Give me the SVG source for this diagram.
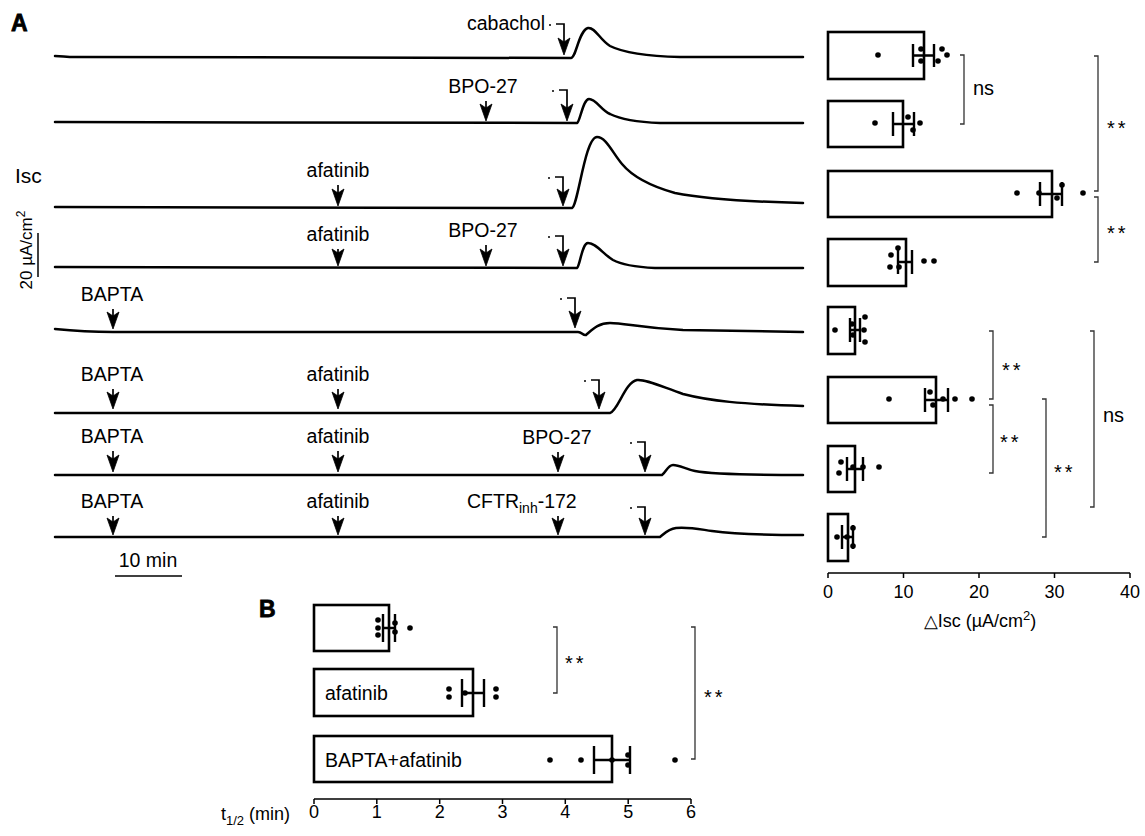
<svg xmlns="http://www.w3.org/2000/svg" width="1145" height="836" viewBox="0 0 1145 836">
<style>
text{font-family:"Liberation Sans",Arial,Helvetica,sans-serif;fill:#000}
.lbl{font-size:19.5px}
.tr{fill:none;stroke:#000;stroke-width:2.5;stroke-linejoin:round;stroke-linecap:round}
.sh{stroke:#000;stroke-width:1.7;fill:none}
.ah{fill:#000;stroke:#000;stroke-width:0.8;stroke-linejoin:miter}
.bar{fill:#fff;stroke:#000;stroke-width:2.6}
.err{fill:none;stroke:#000;stroke-width:2.4}
.dot{fill:#000}
.sig{fill:none;stroke:#333;stroke-width:1.3}
.ax{fill:none;stroke:#000;stroke-width:1.5}
.tk{font-size:18px;text-anchor:middle}
.st{font-size:20px;letter-spacing:3px}
.pl{font-size:23px;font-weight:bold;stroke:#000;stroke-width:0.8}
</style>

<g id="panelA-label"><text class="pl" x="11" y="31">A</text></g>
<g id="isc-label"><text x="15" y="183" font-size="21">Isc</text></g>
<g id="vscale">
<line class="ax" x1="38" y1="233" x2="38" y2="277"/>
<text font-size="17" text-anchor="middle" transform="translate(32,250) rotate(-90)">20 µA/cm<tspan font-size="12" dy="-7">2</tspan></text>
</g>
<g id="hscale">
<line class="ax" x1="115" y1="576" x2="182" y2="576"/>
<text class="lbl" x="148" y="567" text-anchor="middle">10 min</text>
</g>

<g id="traces">
<path class="tr" d="M55,56 C62,56 66,57 75,57 L571,58 C576,58 579,30 588,28 C595,27 600,40 610,46 C622,52 640,56 680,57 L803,57"/>
<path class="tr" d="M55,122 L577,123 C580,122 583,99 589,99 C596,99 601,110 610,114 C620,119 635,122 660,123 L803,123"/>
<path class="tr" d="M55,207 L572,208 C578,206 585,137 597,137 C606,137 612,152 622,164 C632,176 650,186 675,193 C710,200 760,202 803,203"/>
<path class="tr" d="M55,267 L577,268 C580,266 582,243 588,243 C596,243 603,254 613,260 C622,265 635,267 655,268 L803,268"/>
<path class="tr" d="M55,329 C75,331 95,332 113,332 L578,332 C582,332 583,336 586,335 C592,330 598,323 610,323 C625,323 640,328 683,330 L803,332"/>
<path class="tr" d="M55,413 L610,413 C618,411 625,382 637,380 C645,379 660,386 683,394 C710,401 740,404 803,406"/>
<path class="tr" d="M55,475 L662,475 C666,472 668,465 673,465 C680,465 685,469 695,471 C710,474 740,475 803,475"/>
<path class="tr" d="M55,537 L660,537 C665,533 668,529 676,528 C690,527 698,529 712,531 C735,534 770,535 803,535"/>
</g>

<g id="arrows">
<!-- trace 1 -->
<text class="lbl" x="545" y="30" text-anchor="end">cabachol</text>
<circle cx="550" cy="25" r="1"/><path class="sh" d="M556,24 H564 V45"/><polygon class="ah" points="564,55 558,38 564,42 570,38"/>
<!-- trace 2 -->
<text class="lbl" x="483" y="93" text-anchor="middle">BPO-27</text>
<path class="sh" d="M486,101 V111"/><polygon class="ah" points="486,121 480,104 486,108 492,104"/>
<circle cx="553" cy="91" r="1"/><path class="sh" d="M559,90 H567 V111"/><polygon class="ah" points="567,121 561,104 567,108 573,104"/>
<!-- trace 3 -->
<text class="lbl" x="338" y="177" text-anchor="middle">afatinib</text>
<path class="sh" d="M338,185 V196"/><polygon class="ah" points="338,206 332,189 338,193 344,189"/>
<circle cx="549" cy="178" r="1"/><path class="sh" d="M555,177 H563 V196"/><polygon class="ah" points="563,206 557,189 563,193 569,189"/>
<!-- trace 4 -->
<text class="lbl" x="338" y="241" text-anchor="middle">afatinib</text>
<path class="sh" d="M338,249 V256"/><polygon class="ah" points="338,266 332,249 338,253 344,249"/>
<text class="lbl" x="483" y="237" text-anchor="middle">BPO-27</text>
<path class="sh" d="M486,245 V256"/><polygon class="ah" points="486,266 480,249 486,253 492,249"/>
<circle cx="549" cy="237" r="1"/><path class="sh" d="M555,236 H563 V256"/><polygon class="ah" points="563,266 557,249 563,253 569,249"/>
<!-- trace 5 -->
<text class="lbl" x="112" y="301" text-anchor="middle">BAPTA</text>
<path class="sh" d="M113,309 V319"/><polygon class="ah" points="113,329 107,312 113,316 119,312"/>
<circle cx="561" cy="299" r="1"/><path class="sh" d="M567,298 H575 V318"/><polygon class="ah" points="575,328 569,311 575,315 581,311"/>
<!-- trace 6 -->
<text class="lbl" x="112" y="381" text-anchor="middle">BAPTA</text>
<path class="sh" d="M113,389 V399"/><polygon class="ah" points="113,409 107,392 113,396 119,392"/>
<text class="lbl" x="338" y="381" text-anchor="middle">afatinib</text>
<path class="sh" d="M338,389 V399"/><polygon class="ah" points="338,409 332,392 338,396 344,392"/>
<circle cx="585" cy="381" r="1"/><path class="sh" d="M591,380 H599 V399"/><polygon class="ah" points="599,409 593,392 599,396 605,392"/>
<!-- trace 7 -->
<text class="lbl" x="112" y="443" text-anchor="middle">BAPTA</text>
<path class="sh" d="M113,451 V462"/><polygon class="ah" points="113,472 107,455 113,459 119,455"/>
<text class="lbl" x="338" y="443" text-anchor="middle">afatinib</text>
<path class="sh" d="M338,451 V462"/><polygon class="ah" points="338,472 332,455 338,459 344,455"/>
<text class="lbl" x="557" y="444" text-anchor="middle">BPO-27</text>
<path class="sh" d="M558,452 V462"/><polygon class="ah" points="558,472 552,455 558,459 564,455"/>
<circle cx="631" cy="443" r="1"/><path class="sh" d="M637,442 H645 V462"/><polygon class="ah" points="645,472 639,455 645,459 651,455"/>
<!-- trace 8 -->
<text class="lbl" x="112" y="508" text-anchor="middle">BAPTA</text>
<path class="sh" d="M113,516 V525"/><polygon class="ah" points="113,535 107,518 113,522 119,518"/>
<text class="lbl" x="338" y="508" text-anchor="middle">afatinib</text>
<path class="sh" d="M338,516 V525"/><polygon class="ah" points="338,535 332,518 338,522 344,518"/>
<text class="lbl" x="467" y="508">CFTR<tspan font-size="14" dy="5">inh</tspan><tspan dy="-5">-172</tspan></text>
<path class="sh" d="M558,516 V525"/><polygon class="ah" points="558,535 552,518 558,522 564,518"/>
<circle cx="631" cy="508" r="1"/><path class="sh" d="M637,507 H645 V525"/><polygon class="ah" points="645,535 639,518 645,522 651,518"/>
</g>

<g id="barsA">
<rect class="bar" x="828" y="32" width="96" height="47"/>
<rect class="bar" x="828" y="101" width="75" height="46"/>
<rect class="bar" x="828" y="171" width="224" height="46"/>
<rect class="bar" x="828" y="239" width="78" height="47"/>
<rect class="bar" x="828" y="307" width="27" height="47"/>
<rect class="bar" x="828" y="377" width="108" height="46"/>
<rect class="bar" x="828" y="446" width="27" height="46"/>
<rect class="bar" x="828" y="514" width="20" height="47"/>
<path class="err" d="M913,44V67M934,44V67M913,55.5H934 M893,112V136M914,112V136M893,124H914 M1040,182V206M1062,182V206M1040,194H1062 M898,250V274M912,250V274M898,262H912 M850,318V342M860,318V342M850,330H860 M925,388V412M948,388V412M925,400H948 M847,457V481M863,457V481M847,469H863 M842,525V549M853,525V549M842,537H853"/>
<g class="dot">
<circle cx="878" cy="55" r="2.8"/><circle cx="921" cy="49" r="2.8"/><circle cx="921" cy="61" r="2.8"/><circle cx="942" cy="49" r="2.8"/><circle cx="947" cy="55" r="2.8"/><circle cx="938" cy="61" r="2.8"/>
<circle cx="875" cy="123" r="2.8"/><circle cx="908" cy="117" r="2.8"/><circle cx="920" cy="123" r="2.8"/><circle cx="913" cy="130" r="2.8"/>
<circle cx="1017" cy="193" r="2.8"/><circle cx="1039" cy="193" r="2.8"/><circle cx="1062" cy="185" r="2.8"/><circle cx="1057" cy="198" r="2.8"/><circle cx="1083" cy="193" r="2.8"/>
<circle cx="891" cy="255" r="2.8"/><circle cx="898" cy="248" r="2.8"/><circle cx="890" cy="267" r="2.8"/><circle cx="899" cy="267" r="2.8"/><circle cx="924" cy="261" r="2.8"/><circle cx="934" cy="261" r="2.8"/>
<circle cx="835" cy="330" r="2.8"/><circle cx="865" cy="317" r="2.8"/><circle cx="864" cy="330" r="2.8"/><circle cx="865" cy="342" r="2.8"/><circle cx="852" cy="324" r="2.8"/><circle cx="853" cy="335" r="2.8"/>
<circle cx="889" cy="399" r="2.8"/><circle cx="930" cy="392" r="2.8"/><circle cx="933" cy="405" r="2.8"/><circle cx="943" cy="399" r="2.8"/><circle cx="955" cy="399" r="2.8"/><circle cx="972" cy="399" r="2.8"/>
<circle cx="841" cy="462" r="2.8"/><circle cx="839" cy="473" r="2.8"/><circle cx="853" cy="467" r="2.8"/><circle cx="863" cy="467" r="2.8"/><circle cx="879" cy="467" r="2.8"/>
<circle cx="837" cy="537" r="2.8"/><circle cx="853" cy="528" r="2.8"/><circle cx="853" cy="546" r="2.8"/><circle cx="847" cy="537" r="2.8"/>
</g>
<path class="ax" d="M828,573H1130 M828,573V578 M903.5,573V578 M979,573V578 M1054.5,573V578 M1130,573V578"/>
<text class="tk" x="828" y="598">0</text><text class="tk" x="903.5" y="598">10</text><text class="tk" x="979" y="598">20</text><text class="tk" x="1054.5" y="598">30</text><text class="tk" x="1130" y="598">40</text>
<text font-size="18" x="980" y="627" text-anchor="middle">△Isc (µA/cm<tspan font-size="13" dy="-7">2</tspan><tspan dy="7">)</tspan></text>
</g>

<g id="sigA">
<path class="sig" d="M960,55H964V124H960 M1094,56H1098V191H1094 M1094,197H1098V262H1094 M989,331H993V399H989 M989,405H993V473H989 M1042,399H1046V537H1042 M1090,331H1094V507H1090"/>
<text font-size="20" x="973" y="95">ns</text>
<text class="st" x="1107" y="135">**</text>
<text class="st" x="1107" y="240">**</text>
<text class="st" x="1002" y="377">**</text>
<text class="st" x="1000" y="449">**</text>
<text class="st" x="1054" y="479">**</text>
<text font-size="20" x="1103" y="422">ns</text>
</g>

<g id="panelB">
<text class="pl" x="259" y="617">B</text>
<rect class="bar" x="314" y="605" width="75" height="46"/>
<rect class="bar" x="314" y="669" width="159" height="47"/>
<rect class="bar" x="314" y="736" width="298" height="46"/>
<text class="lbl" x="325" y="700">afatinib</text>
<text class="lbl" x="325" y="767">BAPTA+afatinib</text>
<path class="err" d="M383,614V642M395,614V642M383,628H395 M462,679V707M484,679V707M462,693H484 M594,746V774M630,746V774M594,760H630"/>
<g class="dot">
<circle cx="378" cy="620" r="2.8"/><circle cx="378" cy="628" r="2.8"/><circle cx="378" cy="635" r="2.8"/><circle cx="395" cy="623" r="2.8"/><circle cx="395" cy="632" r="2.8"/><circle cx="410" cy="628" r="2.8"/>
<circle cx="449" cy="689" r="2.8"/><circle cx="449" cy="697" r="2.8"/><circle cx="465" cy="693" r="2.8"/><circle cx="496" cy="689" r="2.8"/><circle cx="496" cy="697" r="2.8"/>
<circle cx="550" cy="760" r="2.8"/><circle cx="581" cy="760" r="2.8"/><circle cx="612" cy="760" r="2.8"/><circle cx="628" cy="755" r="2.8"/><circle cx="628" cy="765" r="2.8"/><circle cx="675" cy="760" r="2.8"/>
</g>
<path class="ax" d="M314,799H691 M314,799V804 M376.8,799V804 M439.7,799V804 M502.5,799V804 M565.3,799V804 M628.2,799V804 M691,799V804"/>
<text class="tk" x="314" y="818">0</text><text class="tk" x="376.8" y="818">1</text><text class="tk" x="439.7" y="818">2</text><text class="tk" x="502.5" y="818">3</text><text class="tk" x="565.3" y="818">4</text><text class="tk" x="628.2" y="818">5</text><text class="tk" x="691" y="818">6</text>
<text font-size="18" x="290" y="820" text-anchor="end">t<tspan font-size="13" dy="5">1/2</tspan><tspan dy="-5"> (min)</tspan></text>
<path class="sig" d="M553,627H557V693H553 M691,627H695V759H691"/>
<text class="st" x="565" y="670">**</text>
<text class="st" x="704" y="704">**</text>
</g>
</svg>
